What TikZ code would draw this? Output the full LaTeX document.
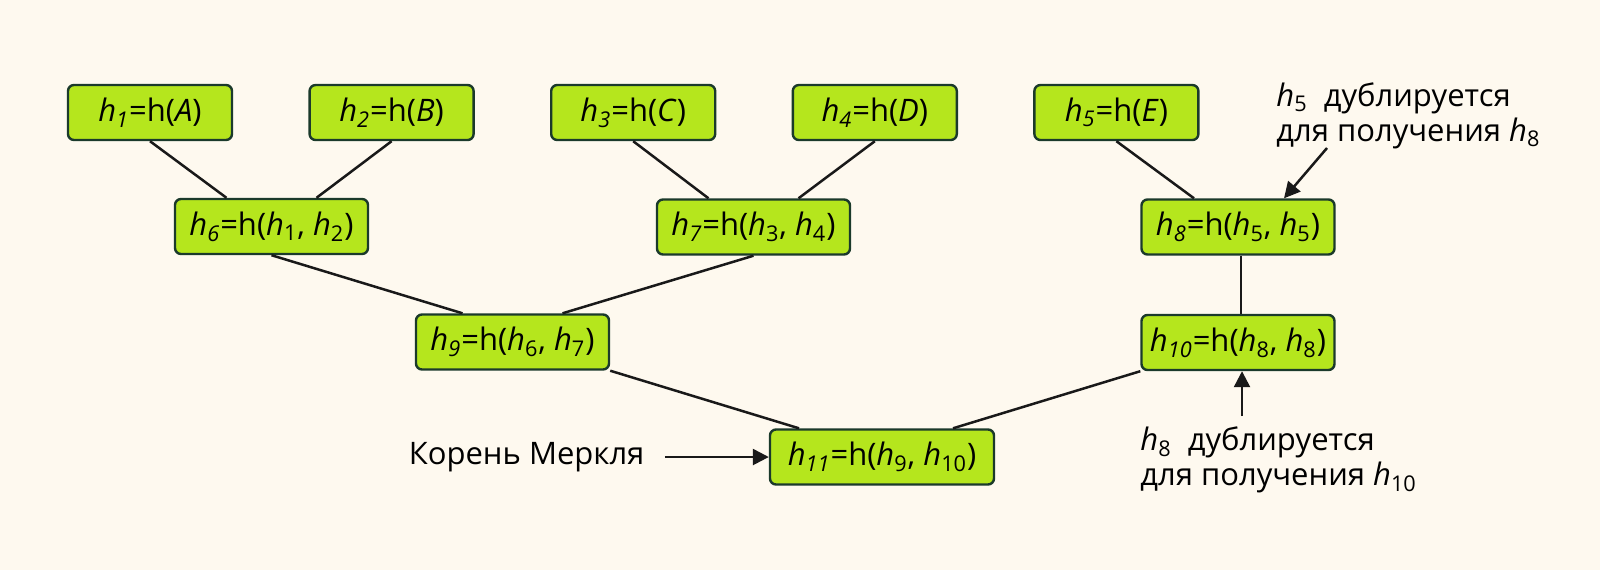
\documentclass[tikz,border=0pt]{standalone}
\usepackage{fontspec}
\setmainfont{Open Sans}
\usepackage{xcolor}
\usepackage{tikz}
\usetikzlibrary{positioning, arrows.meta}

\definecolor{bgcream}{HTML}{FEF9EF}
\definecolor{limefill}{HTML}{B5E61D}
\definecolor{boxedge}{HTML}{1B3A2B}
\newcommand{\hsub}[1]{\textit{h}\textsubscript{#1}}
\newcommand{\hisub}[1]{\textit{h\textsubscript{#1}}}

\begin{document}
\begin{tikzpicture}[
        x=0.5pt, y=-0.5pt,
        node distance=37.6pt and 37.6pt,
        every node/.style={font=\fontsize{15.5}{17.5}\selectfont},
        hashbox/.style={draw=boxedge, fill=limefill, line width=1.2pt, rounded corners=3pt, minimum height=27.5pt, inner sep=0pt},
        leafbox/.style={hashbox, minimum width=82pt},
        pairbox/.style={hashbox, minimum width=96.5pt},
        rootbox/.style={hashbox, minimum width=112pt},
        notetext/.style={align=left, inner sep=0pt},
        edge/.style={line width=1.25pt, draw=black!90},
        arrow/.style={edge, -{Triangle[length=8pt, width=8pt]}}
    ]

    % Background and page size
    \fill[bgcream] (0,0) rectangle (1600,570);
    \useasboundingbox (0,0) rectangle (1600,570);

    % Leaves
    \node[leafbox] (h1) at (150,112.5) {\hisub{1}=h(\textit{A})};
    \node[leafbox, right=of h1] (h2) {\hisub{2}=h(\textit{B})};
    \node[leafbox, right=of h2] (h3) {\hisub{3}=h(\textit{C})};
    \node[leafbox, right=of h3] (h4) {\hisub{4}=h(\textit{D})};
    \node[leafbox, right=of h4] (h5) {\hisub{5}=h(\textit{E})};

    % Inner hashes
    \node[pairbox] (h6) at (271.5,226.5) {\hisub{6}=h(\hsub{1}, \hsub{2})};
    \node[pairbox] (h7) at (753.5,227) {\hisub{7}=h(\hsub{3}, \hsub{4})};
    \node[pairbox] (h8) at (1238,227) {\hisub{8}=h(\hsub{5}, \hsub{5})};
    \node[pairbox] (h9) at (512.5,342) {\hisub{9}=h(\hsub{6}, \hsub{7})};
    \node[pairbox] (h10) at (1238,342.5) {\hisub{10}=h(\hsub{8}, \hsub{8})};
    \node[rootbox] (h11) at (882,457) {\hisub{11}=h(\hsub{9}, \hsub{10})};

    % Tree edges
    \draw[edge] (h1.south) -- ([xshift=-22.5pt]h6.north);
    \draw[edge] (h2.south) -- ([xshift=22.5pt]h6.north);
    \draw[edge] (h3.south) -- ([xshift=-22.5pt]h7.north);
    \draw[edge] (h4.south) -- ([xshift=22.5pt]h7.north);
    \draw[edge] (h5.south) -- ([xshift=-22pt]h8.north);
    \draw[edge] (h6.south) -- ([xshift=-25pt]h9.north);
    \draw[edge] (h7.south) -- ([xshift=25pt]h9.north);
    \draw[edge] ([xshift=1.5pt]h8.south) -- ([xshift=1.5pt]h10.north);
    \draw[edge] (h9.south east) -- ([xshift=-41.5pt]h11.north);
    \draw[edge] (h10.south west) -- ([xshift=35.5pt]h11.north);

    % Notes
    \node[notetext, anchor=west] (dup5) at (1276,115.5) {\hsub{5}\ \ дублируется\\для получения \hsub{8}};
    \node[notetext, anchor=west] (dup8) at (1140,460) {\hsub{8}\ \ дублируется\\для получения \hsub{10}};
    \node[notetext, left=62pt of h11] (rootlbl) {Корень Меркля};

    \coordinate (dup5tail) at (1327,148);
    \coordinate (dup8tail) at (1242,416);
    \draw[arrow] (dup5tail) -- ([xshift=23pt]h8.north);
    \draw[arrow] (dup8tail) -- (dup8tail |- h10.south);
    \draw[arrow] ([xshift=10pt]rootlbl.east) -- (h11.west);

\end{tikzpicture}
\end{document}
